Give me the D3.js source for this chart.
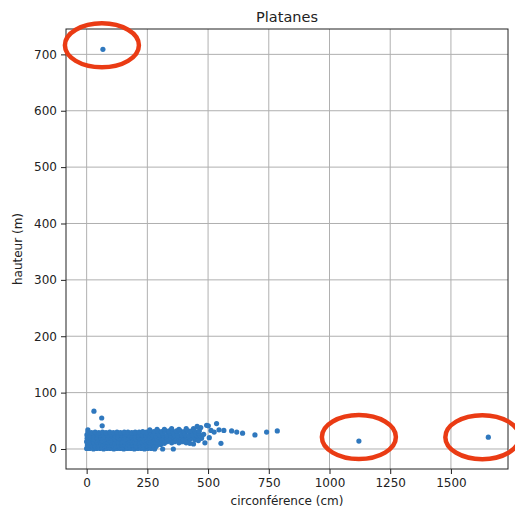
<!DOCTYPE html>
<html>
<head>
<meta charset="utf-8">
<script src="https://cdn.jsdelivr.net/npm/d3@7"></script>
<style>
  body { margin: 0; background: #fff; }
  text { font-family: "DejaVu Sans", sans-serif; fill: #222; }
</style>
</head>
<body>
<div id="container"></div>
<script>
// ticks
const xTicks = [0, 250, 500, 750, 1000, 1250, 1500];
const yTicks = [0, 100, 200, 300, 400, 500, 600, 700];

// main cloud of trees [circumference, height]
const cloud = [
  [0,1],[12,1],[28,0],[41,1],[55,1],[70,0],[84,1],[97,1],[112,0],[126,1],[139,1],[153,0],[168,1],[181,1],[196,0],[210,1],[224,1],[238,0],[252,1],[266,1],[280,0],[313,0],[357,0],
  [7,4],[35,4],[62,3],[90,4],[118,4],[146,3],[174,4],[202,4],[230,3],[258,4],[284,4],
  [3,7],[18,7],[33,6],[47,7],[61,7],[76,6],[90,7],[104,7],[119,6],[133,7],[147,7],[161,6],[176,7],[190,7],[204,6],[218,7],[232,7],[247,6],[261,7],[275,7],[289,6],[305,8],
  [9,10],[37,10],[66,9],[94,10],[122,10],[151,9],[179,10],[207,10],[236,9],[264,10],[292,10],[320,10],[350,11],[380,11],[410,11],
  [0,13],[15,13],[30,12],[44,13],[58,13],[73,12],[87,13],[101,13],[116,12],[130,13],[144,13],[158,12],[173,13],[187,13],[201,12],[215,13],[229,13],[244,12],[258,13],[272,13],[286,12],[300,13],[316,14],[331,13],[347,14],[362,13],[378,14],[394,13],[410,14],[425,10],
  [8,16],[36,16],[64,15],[93,16],[121,16],[150,15],[178,16],[206,16],[235,15],[263,16],[291,16],[322,16],[352,16],[384,16],[416,16],[446,17],
  [2,19],[17,19],[31,18],[46,19],[60,19],[74,18],[89,19],[103,19],[117,18],[132,19],[146,19],[160,18],[175,19],[189,19],[203,18],[217,19],[232,19],[246,18],[260,19],[275,19],[289,18],[303,19],[318,19],[333,18],[348,19],[363,19],[379,18],[395,19],[411,19],[427,18],[442,19],[458,20],[473,19],
  [9,22],[38,22],[66,21],[95,22],[124,22],[152,21],[180,22],[209,22],[238,21],[266,22],[295,22],[324,22],[354,22],[384,22],[414,22],[444,22],[474,22],
  [1,25],[14,25],[29,24],[43,25],[57,25],[72,24],[86,25],[100,25],[115,24],[129,25],[143,25],[157,24],[172,25],[186,25],[200,24],[214,25],[229,25],[243,24],[257,25],[271,25],[286,24],[300,25],[315,25],[330,24],[345,25],[360,25],[376,24],[391,25],[407,25],[422,24],[437,25],[452,25],[468,24],[482,26],
  [12,28],[42,27],[72,28],[102,27],[132,28],[162,27],[192,28],[222,28],[252,28],[282,28],[312,28],[342,29],[372,28],[402,29],[432,28],[460,28],
  [5,30],[20,29],[35,30],[50,29],[65,30],[80,29],[95,30],[110,29],[125,30],[140,29],[155,30],[170,30],[185,29],[200,30],[216,30],[231,31],[246,30],[262,31],[277,31],[293,32],[308,31],[324,32],[339,32],[355,31],[370,32],[386,32],[402,31],[418,32],[433,32],[448,31],[464,32],
  [5,34],[260,34],[290,35],[320,35],[350,36],[380,35],[410,36],[440,36],[470,38],[455,40],
  [494,42],[501,41],[535,45],[512,33],[525,30],[545,34],[565,33],[597,32],[618,30],
  [642,28],[693,25],[741,30],[785,32],
  [440,9],[487,11],[460,15],[553,10],[505,20],
  [30,67],[62,55],[64,41]
];

// isolated points (circled in red)
const outliers = [[67, 709], [1121, 14], [1654, 21]];

const w = 515;
const h = 509;
const margin = { top: 29, right: 7, bottom: 40, left: 66 };

const svg = d3.select('#container')
  .append('svg')
  .attr('width', w)
  .attr('height', h);

const x = d3.scaleLinear()
  .domain([-85, 1735])
  .range([margin.left, w - margin.right]);
const y = d3.scaleLinear()
  .domain([-35.5, 745])
  .range([h - margin.bottom, margin.top]);

// grid
svg.append('g')
  .selectAll('line')
  .data(xTicks)
  .enter()
  .append('line')
  .attr('x1', d => x(d)).attr('x2', d => x(d))
  .attr('y1', margin.top).attr('y2', h - margin.bottom)
  .attr('stroke', '#b0b0b0').attr('stroke-width', 1);
svg.append('g')
  .selectAll('line')
  .data(yTicks)
  .enter()
  .append('line')
  .attr('x1', margin.left).attr('x2', w - margin.right)
  .attr('y1', d => y(d)).attr('y2', d => y(d))
  .attr('stroke', '#b0b0b0').attr('stroke-width', 1);

// points
svg.append('g')
  .selectAll('circle')
  .data(cloud.concat(outliers))
  .enter()
  .append('circle')
  .attr('cx', d => x(d[0]))
  .attr('cy', d => y(d[1]))
  .attr('r', 2.6)
  .attr('fill', '#2f78be');

// axes
const xAxis = svg.append('g')
  .attr('transform', 'translate(0,' + (h - margin.bottom) + ')')
  .call(d3.axisBottom(x).tickValues(xTicks).tickFormat(d3.format('d'))
    .tickSize(5).tickPadding(4).tickSizeOuter(0));
const yAxis = svg.append('g')
  .attr('transform', 'translate(' + margin.left + ',0)')
  .call(d3.axisLeft(y).tickValues(yTicks).tickFormat(d3.format('d'))
    .tickSize(5).tickPadding(4).tickSizeOuter(0));
[xAxis, yAxis].forEach(a => {
  a.select('.domain').remove();
  a.selectAll('text').style('font-size', '12px').attr('fill', '#222');
  a.selectAll('line').attr('stroke', '#222');
});

// frame
svg.append('rect')
  .attr('x', margin.left).attr('y', margin.top)
  .attr('width', w - margin.left - margin.right)
  .attr('height', h - margin.top - margin.bottom)
  .attr('fill', 'none').attr('stroke', '#222').attr('stroke-width', 1);

// labels
svg.append('text')
  .attr('x', (margin.left + w - margin.right) / 2).attr('y', 22)
  .attr('text-anchor', 'middle').style('font-size', '14.5px')
  .text('Platanes');
svg.append('text')
  .attr('x', (margin.left + w - margin.right) / 2).attr('y', 505)
  .attr('text-anchor', 'middle').style('font-size', '12px')
  .text('circonférence (cm)');
svg.append('text')
  .attr('transform', 'translate(22,' + (margin.top + h - margin.bottom) / 2 + ') rotate(-90)')
  .attr('text-anchor', 'middle').style('font-size', '12px')
  .text('hauteur (m)');

// red circles drawn round the isolated points
const offsets = [[-1, -4], [0, -4], [-6, 0]];
svg.append('g')
  .selectAll('ellipse')
  .data(outliers)
  .enter()
  .append('ellipse')
  .attr('cx', (d, i) => x(d[0]) + offsets[i][0])
  .attr('cy', (d, i) => y(d[1]) + offsets[i][1])
  .attr('rx', 37)
  .attr('ry', 22)
  .attr('fill', 'none')
  .attr('stroke', '#ea3b14')
  .attr('stroke-width', 4.5);
</script>
</body>
</html>
